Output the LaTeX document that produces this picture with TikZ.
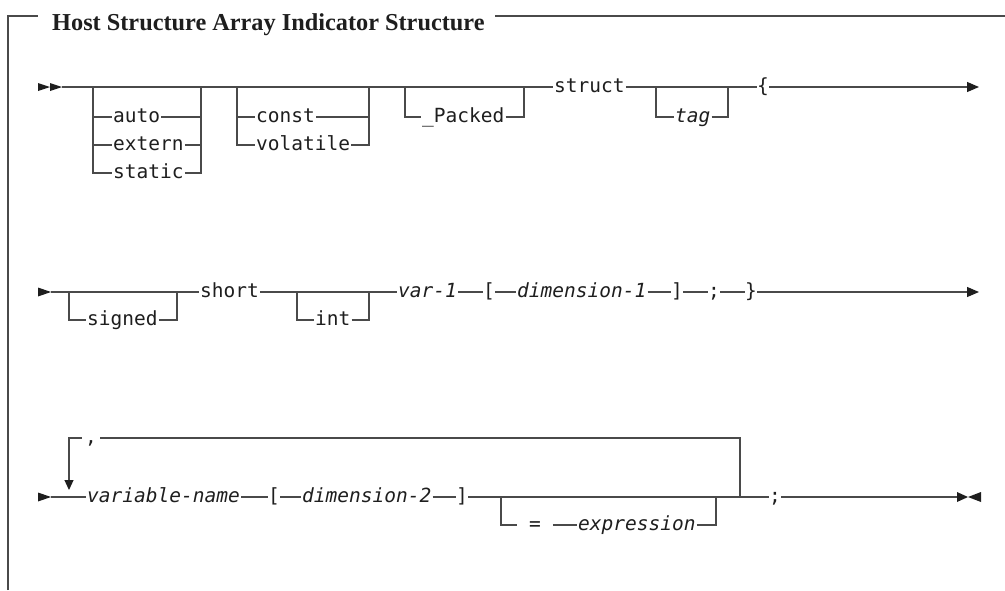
\documentclass[tikz,border=0pt]{standalone}
\usepackage{fontspec}
\setmainfont{Liberation Serif}
\newfontfamily\railmono{DejaVu Sans Mono}
\usetikzlibrary{arrows.meta}
\definecolor{railgray}{HTML}{4A4A4A}
\definecolor{ink}{HTML}{1E1E1E}

\begin{document}
% the ex of this font sets where the mid anchors sit
\railmono\fontsize{19.5}{22}\selectfont
\begin{tikzpicture}[x=1pt,y=-1pt,
  track/.style={draw=railgray,line width=1.2pt},
  frameline/.style={draw=railgray,line width=1.2pt},
  kw/.style={font=\railmono\fontsize{19.5}{22}\selectfont,text=ink,inner xsep=1pt,inner ysep=2pt,anchor=mid west},
  var/.style={kw,font=\railmono\itshape\fontsize{19.5}{22}\selectfont},
  sym/.style={kw,inner xsep=0pt,anchor=mid},
  tipfill/.style={fill=ink},
  endtip/.style={-{Triangle[length=12pt,width=10pt,color=ink]}},
]
\useasboundingbox (0,0) rectangle (1005,590);

% ---------- frame and title ----------
\node[anchor=base west,inner sep=0pt,text=ink,
      font=\rmfamily\bfseries\fontsize{24.3}{28}\selectfont] (title) at (52,30)
      {Host Structure Array Indicator Structure};
\draw[frameline] (8,590) -- (8,16) -- (38,16);
\draw[frameline] (495,16) -- (1005,16);

% ---------- row 1 ----------
\fill[tipfill] (38,83) -- (50,87) -- (38,91) -- cycle;
\fill[tipfill] (50,83) -- (62,87) -- (50,91) -- cycle;
\coordinate (r1s) at (62,87);
\coordinate (r1e) at (979,87);

% storage class choice
\coordinate (sa) at (93,87);
\coordinate (sb) at (201,87);
\node[kw] (auto)   at (112,117) {auto};
\node[kw] (extern) at (112,145) {extern};
\node[kw] (static) at (112,173) {static};
\draw[track] (sa) |- (static.mid west);
\draw[track] (sa |- auto.mid west) -- (auto.mid west);
\draw[track] (sa |- extern.mid west) -- (extern.mid west);
\draw[track] (auto.mid east) -- (sb |- auto.mid east);
\draw[track] (extern.mid east) -- (sb |- extern.mid east);
\draw[track] (static.mid east) -| (sb);

% qualifier choice
\coordinate (qa) at (237,87);
\coordinate (qb) at (369,87);
\node[kw] (const)    at (255,117) {const};
\node[kw] (volatile) at (255,145) {volatile};
\draw[track] (qa) |- (volatile.mid west);
\draw[track] (qa |- const.mid west) -- (const.mid west);
\draw[track] (const.mid east) -- (qb |- const.mid east);
\draw[track] (volatile.mid east) -| (qb);

% _Packed
\coordinate (pa) at (405,87);
\coordinate (pb) at (524,87);
\node[kw] (packed) at (421,117) {\_Packed};
\draw[track] (pa) |- (packed.mid west);
\draw[track] (packed.mid east) -| (pb);

\node[kw] (struct) at (553,87) {struct};

% tag
\coordinate (ta) at (656,87);
\coordinate (tb) at (728,87);
\node[var] (tag) at (674,117) {tag};
\draw[track] (ta) |- (tag.mid west);
\draw[track] (tag.mid east) -| (tb);

\node[sym] (lbrace) at (763,87) {\{};

\draw[track] (r1s) -- (struct.mid west);
\draw[track] (struct.mid east) -- (lbrace.mid west);
\draw[track,endtip] (lbrace.mid east) -- (r1e);

% ---------- row 2 ----------
\fill[tipfill] (38,287.5) -- (51,292) -- (38,296.5) -- cycle;
\coordinate (r2s) at (51,292);
\coordinate (r2e) at (979,292);

\coordinate (ga) at (69,292);
\coordinate (gb) at (177,292);
\node[kw] (signed) at (86,320) {signed};
\draw[track] (ga) |- (signed.mid west);
\draw[track] (signed.mid east) -| (gb);

\node[kw] (short) at (199,292) {short};

\coordinate (ia) at (297,292);
\coordinate (ib) at (369,292);
\node[kw] (int) at (314,320) {int};
\draw[track] (ia) |- (int.mid west);
\draw[track] (int.mid east) -| (ib);

\node[var] (var1)  at (397,292) {var-1};
\node[sym] (lbr1)  at (489,292) {[};
\node[var] (dim1)  at (516,292) {dimension-1};
\node[sym] (rbr1)  at (677,292) {]};
\node[sym] (semi1) at (714,292) {;};
\node[sym] (rbrace) at (751,292) {\}};

\draw[track] (r2s) -- (short.mid west);
\draw[track] (short.mid east) -- (var1.mid west);
\draw[track] (var1.mid east) -- (lbr1.mid west);
\draw[track] (lbr1.mid east) -- (dim1.mid west);
\draw[track] (dim1.mid east) -- (rbr1.mid west);
\draw[track] (rbr1.mid east) -- (semi1.mid west);
\draw[track] (semi1.mid east) -- (rbrace.mid west);
\draw[track,endtip] (rbrace.mid east) -- (r2e);

% ---------- row 3 ----------
\fill[tipfill] (38,492.5) -- (51,497) -- (38,501.5) -- cycle;
\coordinate (r3s) at (51,497);
\coordinate (r3e) at (957,497);

\node[var] (varname) at (86,497) {variable-name};
\node[sym] (lbr2)  at (274,497) {[};
\node[var] (dim2)  at (301,497) {dimension-2};
\node[sym] (rbr2)  at (462,497) {]};
\node[sym] (semi2) at (775,497) {;};

\draw[track] (r3s) -- (varname.mid west);
\draw[track] (varname.mid east) -- (lbr2.mid west);
\draw[track] (lbr2.mid east) -- (dim2.mid west);
\draw[track] (dim2.mid east) -- (rbr2.mid west);
\draw[track] (rbr2.mid east) -- (semi2.mid west);
\draw[track] (semi2.mid east) -- (r3e);
\fill[tipfill] (957,492) -- (968,497) -- (957,502) -- cycle;
\fill[tipfill] (981,492) -- (968,497) -- (981,502) -- cycle;

% repeat loop with comma separator
\coordinate (la) at (69,438);
\coordinate (lb) at (740,438);
\coordinate (lc) at (740,497);
\coordinate (ld) at (69,490);
\node[sym,inner xsep=3pt] (comma) at (91,438) {,};
\draw[track] (comma.mid east) -- (lb) -- (lc);
\draw[track,-{Triangle[length=10pt,width=9pt,color=ink]}] (comma.mid west) -- (la) -- (ld);

% optional initializer
\coordinate (ea) at (501,497);
\coordinate (eb) at (716,497);
\node[sym] (eq) at (535,525) {\hphantom{0}=\hphantom{0}};
\node[var] (expr) at (577,525) {expression};
\draw[track] (ea) |- (eq.mid west);
\draw[track] (eq.mid east) -- (expr.mid west);
\draw[track] (expr.mid east) -| (eb);

\end{tikzpicture}
\end{document}
